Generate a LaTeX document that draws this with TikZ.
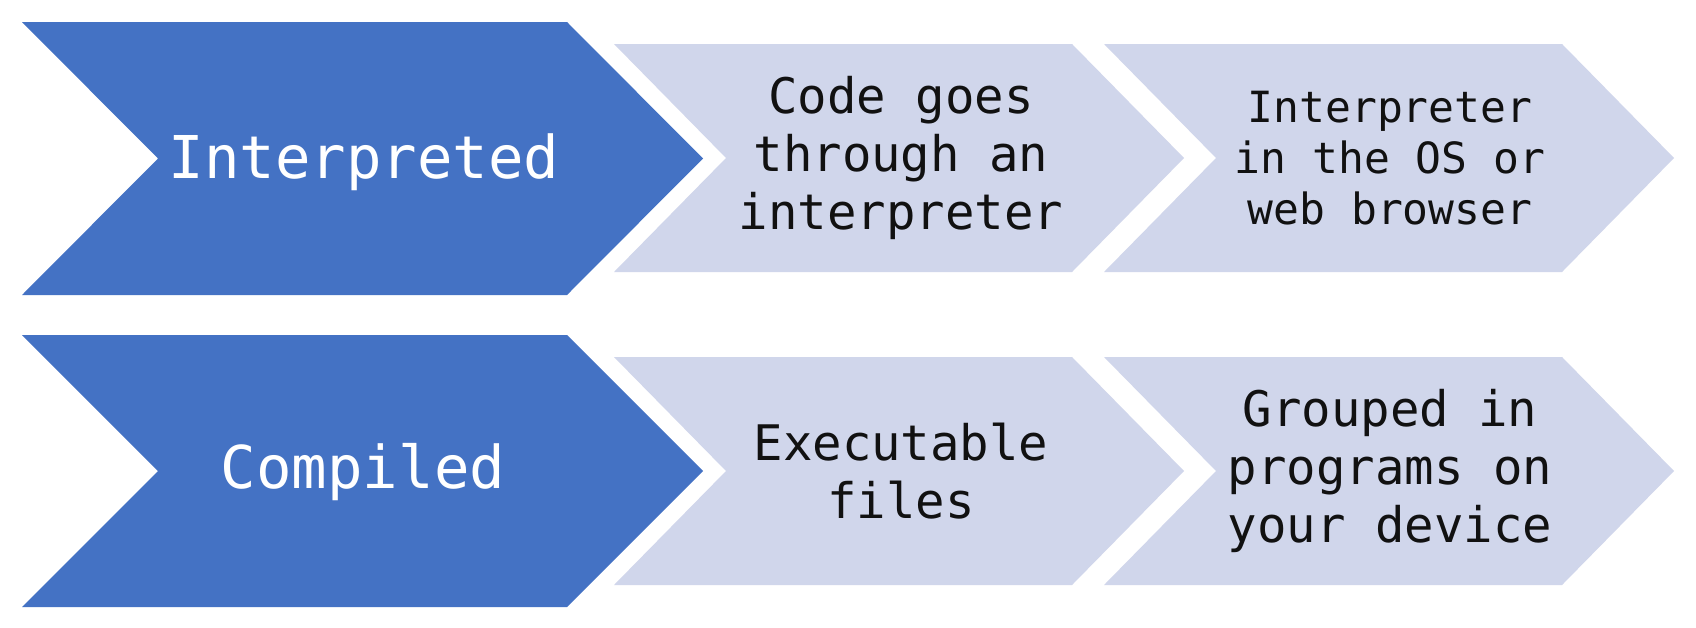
\documentclass[tikz,border=0pt]{standalone}
\usepackage{fontspec}
\newfontfamily\chevfont{DejaVu Sans Mono}
\definecolor{stageblue}{RGB}{68,114,196}
\definecolor{stagelight}{RGB}{208,214,235}
\definecolor{stageink}{RGB}{17,17,17}

% chevron: style, left x, top y, corner x, bottom y, point depth
\newcommand\drawchevron[6]{%
  \fill[#1] (#2,#3) -- (#4,#3) -- ({#4+#6},{(#3+#5)/2}) -- (#4,#5)
    -- (#2,#5) -- ({#2+#6},{(#3+#5)/2}) -- cycle;}

\begin{document}
\begin{tikzpicture}[x=1pt,y=-1pt,
  headstage/.style={fill=stageblue},
  substage/.style={fill=stagelight},
  headtext/.style={text=white, inner sep=0pt, anchor=base,
    font=\chevfont\fontsize{59}{70}\selectfont},
  subtext/.style={text=stageink, inner sep=0pt, align=center,
    font=\chevfont\fontsize{49}{58}\selectfont},
  smalltext/.style={subtext, font=\chevfont\fontsize{43}{51}\selectfont}]
\useasboundingbox (0,0) rectangle (1696,627);
\fill[white] (0,0) rectangle (1696,627);

% upper row
\drawchevron{headstage}{22}{22}{567}{295}{136}
\drawchevron{substage}{614}{44}{1072}{272}{112}
\drawchevron{substage}{1104}{44}{1562}{272}{112}
% lower row
\drawchevron{headstage}{22}{335}{567}{607}{136}
\drawchevron{substage}{614}{357}{1072}{585}{112}
\drawchevron{substage}{1104}{357}{1562}{585}{112}

\node[headtext] (interp) at (364,178) {Interpreted};
\node[subtext] (goes) at (901,158) {Code goes\\through an\\interpreter};
\node[smalltext] (host) at (1390,158) {Interpreter\\in the OS or\\web browser};

\node[headtext] (comp) at (363,488) {Compiled};
\node[subtext] (exec) at (901,471) {Executable\\files};
\node[subtext] (group) at (1390,471) {Grouped in\\programs on\\your device};
\end{tikzpicture}
\end{document}
